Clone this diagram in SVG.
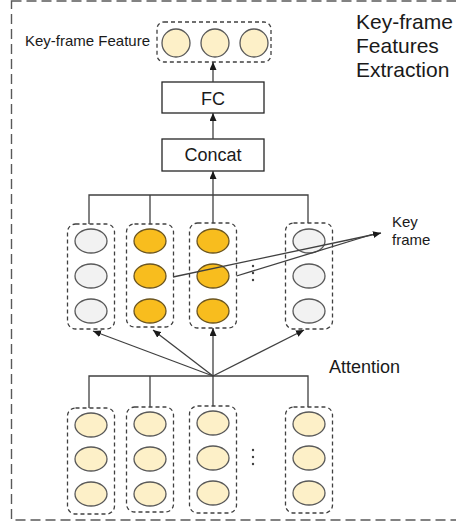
<svg xmlns="http://www.w3.org/2000/svg" width="456" height="526" viewBox="0 0 456 526">
  <style>
    .frame { fill: none; stroke: #595959; stroke-width: 1.4; stroke-dasharray: 10 5; }
    .grp { fill: none; stroke: #404040; stroke-width: 1.3; stroke-dasharray: 4 3; }
    .box { fill: #ffffff; stroke: #262626; stroke-width: 1.3; }
    .cream { fill: #fdf0c8; stroke: #595959; stroke-width: 1.3; }
    .gray { fill: #f2f2f2; stroke: #595959; stroke-width: 1.3; }
    .gold { fill: #f8bd1e; stroke: #6b5520; stroke-width: 1.3; }
    .wire { fill: none; stroke: #404040; stroke-width: 1.3; }
    .dot { fill: #404040; }
    text { font-family: "Liberation Sans", Arial, sans-serif; fill: #1a1a1a; }
  </style>
  <defs>
    <marker id="arrow" viewBox="0 0 8 7" refX="8" refY="3.5" markerWidth="8" markerHeight="7" markerUnits="userSpaceOnUse" orient="auto">
      <path d="M0,0 L8,3.5 L0,7 z" fill="#1a1a1a"/>
    </marker>
  </defs>

  <!-- outer dashed frame -->
  <rect class="frame" x="11.5" y="1" width="460" height="519"/>

  <!-- block title -->
  <g id="title">
    <text x="356" y="29" font-size="21">Key-frame</text>
    <text x="356" y="53" font-size="21">Features</text>
    <text x="356" y="77" font-size="21">Extraction</text>
  </g>

  <!-- output feature vector -->
  <g id="keyframe-feature">
    <text x="150" y="46" font-size="15" text-anchor="end">Key-frame Feature</text>
    <rect class="grp" x="157" y="22" width="114" height="40" rx="7"/>
    <circle class="cream" cx="176" cy="43" r="14"/>
    <circle class="cream" cx="215" cy="43" r="14"/>
    <circle class="cream" cx="254" cy="43" r="14"/>
  </g>

  <g id="fc">
    <rect class="box" x="162" y="82" width="102" height="31"/>
    <text x="213" y="105" font-size="18" text-anchor="middle">FC</text>
  </g>

  <g id="concat">
    <rect class="box" x="162" y="139" width="102" height="32"/>
    <text x="213" y="161" font-size="18" text-anchor="middle">Concat</text>
  </g>

  <!-- attended frame features -->
  <g id="mid-1">
    <rect class="grp" x="67.5" y="224" width="47" height="105" rx="8"/>
    <ellipse class="gray" cx="91" cy="241" rx="16" ry="12"/>
    <ellipse class="gray" cx="91" cy="276" rx="16" ry="12"/>
    <ellipse class="gray" cx="91" cy="311" rx="16" ry="12"/>
  </g>
  <g id="mid-2">
    <rect class="grp" x="126.5" y="224" width="47" height="103" rx="8"/>
    <ellipse class="gold" cx="150" cy="241" rx="16" ry="12"/>
    <ellipse class="gold" cx="150" cy="276" rx="16" ry="12"/>
    <ellipse class="gold" cx="150" cy="311" rx="16" ry="12"/>
  </g>
  <g id="mid-3">
    <rect class="grp" x="189.5" y="223" width="47" height="105" rx="8"/>
    <ellipse class="gold" cx="213" cy="241" rx="16" ry="12"/>
    <ellipse class="gold" cx="213" cy="276" rx="16" ry="12"/>
    <ellipse class="gold" cx="213" cy="311" rx="16" ry="12"/>
  </g>
  <g id="mid-gap">
    <circle class="dot" cx="253" cy="266" r="1.2"/>
    <circle class="dot" cx="253" cy="273" r="1.2"/>
    <circle class="dot" cx="253" cy="280" r="1.2"/>
  </g>
  <g id="mid-4">
    <rect class="grp" x="285.5" y="223" width="47" height="106" rx="8"/>
    <ellipse class="gray" cx="309" cy="241" rx="16" ry="12"/>
    <ellipse class="gray" cx="309" cy="276" rx="16" ry="12"/>
    <ellipse class="gray" cx="309" cy="311" rx="16" ry="12"/>
  </g>

  <g id="key-frame-label">
    <text x="392" y="227" font-size="15">Key</text>
    <text x="392" y="245" font-size="15">frame</text>
  </g>

  <g id="attention-label">
    <text x="329" y="373" font-size="18">Attention</text>
  </g>

  <!-- input frame features -->
  <g id="in-1">
    <rect class="grp" x="67.5" y="408" width="47" height="106" rx="8"/>
    <ellipse class="cream" cx="91" cy="425" rx="16" ry="12"/>
    <ellipse class="cream" cx="91" cy="459" rx="16" ry="12"/>
    <ellipse class="cream" cx="91" cy="494" rx="16" ry="12"/>
  </g>
  <g id="in-2">
    <rect class="grp" x="126.5" y="407" width="47" height="105" rx="8"/>
    <ellipse class="cream" cx="150" cy="424" rx="16" ry="12"/>
    <ellipse class="cream" cx="150" cy="459" rx="16" ry="12"/>
    <ellipse class="cream" cx="150" cy="494" rx="16" ry="12"/>
  </g>
  <g id="in-3">
    <rect class="grp" x="189.5" y="406" width="47" height="107" rx="8"/>
    <ellipse class="cream" cx="213" cy="423" rx="16" ry="12"/>
    <ellipse class="cream" cx="213" cy="458" rx="16" ry="12"/>
    <ellipse class="cream" cx="213" cy="493" rx="16" ry="12"/>
  </g>
  <g id="in-gap">
    <circle class="dot" cx="253" cy="450" r="1.2"/>
    <circle class="dot" cx="253" cy="457" r="1.2"/>
    <circle class="dot" cx="253" cy="464" r="1.2"/>
  </g>
  <g id="in-4">
    <rect class="grp" x="285.5" y="407" width="47" height="106" rx="8"/>
    <ellipse class="cream" cx="309" cy="424" rx="16" ry="12"/>
    <ellipse class="cream" cx="309" cy="458" rx="16" ry="12"/>
    <ellipse class="cream" cx="309" cy="493" rx="16" ry="12"/>
  </g>

  <g id="connectors">
    <!-- upper stack -->
    <path class="wire" d="M213,82 V62" marker-end="url(#arrow)"/>
    <path class="wire" d="M213,139 V113" marker-end="url(#arrow)"/>
    <path class="wire" d="M213,195 V171" marker-end="url(#arrow)"/>
    <!-- collect bus into Concat -->
    <path class="wire" d="M89,224 V195 H308 V223"/>
    <path class="wire" d="M150,195 V224"/>
    <path class="wire" d="M213,195 V223"/>
    <!-- attention fan-out -->
    <path class="wire" d="M89,408 V376 H308 V407"/>
    <path class="wire" d="M150,376 V407"/>
    <path class="wire" d="M213,376 V406"/>
    <path class="wire" d="M213,376 L93,331" marker-end="url(#arrow)"/>
    <path class="wire" d="M213,376 L153,330" marker-end="url(#arrow)"/>
    <path class="wire" d="M213,376 V328" marker-end="url(#arrow)"/>
    <path class="wire" d="M213,376 L304,330" marker-end="url(#arrow)"/>
    <!-- key frame pointers -->
    <path class="wire" d="M173,277 L381,233" marker-end="url(#arrow)"/>
    <path class="wire" d="M236.5,276 L372,234.5"/>
  </g>
</svg>
